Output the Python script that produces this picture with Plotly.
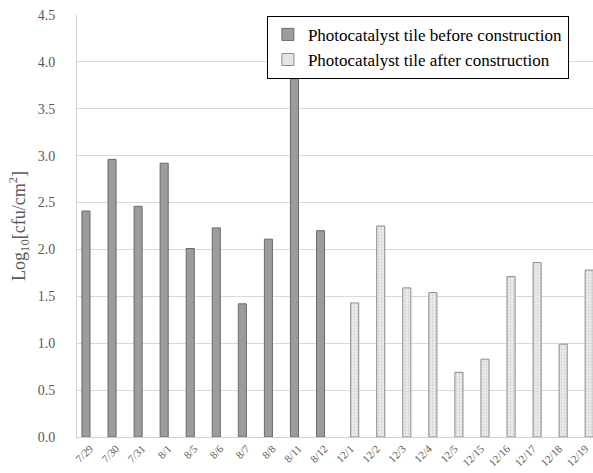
import plotly.graph_objects as go

categories = ["7/29", "7/30", "7/31", "8/1", "8/5", "8/6", "8/7", "8/8", "8/11", "8/12",
              "12/1", "12/2", "12/3", "12/4", "12/5", "12/15", "12/16", "12/17", "12/18", "12/19"]
before_values = [2.41, 2.96, 2.46, 2.92, 2.01, 2.23, 1.42, 2.11, 3.82, 2.20,
                 None, None, None, None, None, None, None, None, None, None]
after_values = [None, None, None, None, None, None, None, None, None, None,
                1.43, 2.25, 1.59, 1.54, 0.69, 0.83, 1.71, 1.86, 0.99, 1.78]
series_names = ["Photocatalyst tile before construction", "Photocatalyst tile after construction"]

serif = "Liberation Serif"

fig = go.Figure()
fig.add_trace(go.Bar(
    x=categories, y=before_values, name=series_names[0],
    marker=dict(color="#9c9c9c", line=dict(color="#6a6a6a", width=1)),
))
fig.add_trace(go.Bar(
    x=categories, y=after_values, name=series_names[1],
    marker=dict(color="#ececec", line=dict(color="#8a8a8a", width=1),
                pattern=dict(shape=".", fgcolor="#b5b5b5", size=3, solidity=0.3)),
))

fig.update_layout(
    width=593, height=473,
    margin=dict(l=77, r=0, t=15, b=36, autoexpand=False),
    paper_bgcolor="white", plot_bgcolor="white",
    barmode="group", bargap=0.38, bargroupgap=0,
    font=dict(family=serif, color="#595959"),
    showlegend=True,
    legend=dict(x=0.368, y=0.998, xanchor="left", yanchor="top",
                bordercolor="black", borderwidth=1, bgcolor="white",
                font=dict(family=serif, size=17, color="black"),
                tracegroupgap=0, itemwidth=30,
                entrywidth=330, entrywidthmode="pixels"),
    xaxis=dict(type="category", range=[-0.5, 19.3], tickangle=-45,
               tickfont=dict(family=serif, size=11, color="#595959"),
               showline=True, linecolor="#d0d0d0", linewidth=1, ticks="",
               showgrid=False, automargin=False),
    yaxis=dict(range=[0, 4.5], dtick=0.5, tickformat=".1f",
               tickfont=dict(family=serif, size=14, color="#595959"),
               gridcolor="#d9d9d9", gridwidth=1,
               showline=True, linecolor="#d0d0d0", linewidth=1,
               zeroline=False, ticks="", ticklen=0,
               ticklabelstandoff=18, automargin=False,
               title=dict(text="Log<sub>10</sub>[cfu/cm<sup>2</sup>]",
                          font=dict(family=serif, size=18, color="#595959"),
                          standoff=7)),
)

fig.write_html("out.html",
               config={"displayModeBar": False},
               post_script="document.body.style.margin='0';document.body.style.overflow='hidden';")
